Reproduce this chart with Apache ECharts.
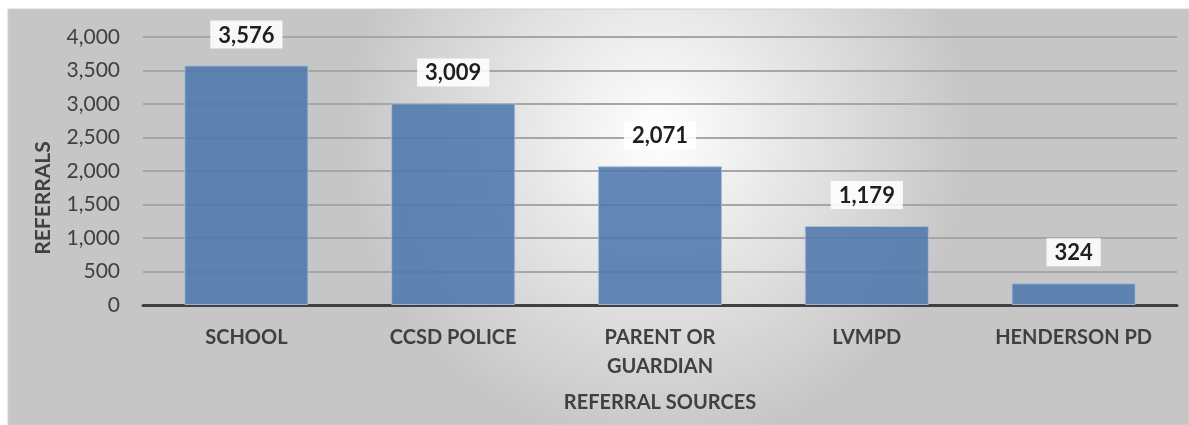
<!DOCTYPE html>
<html><head><meta charset="utf-8">
<script src="https://cdn.jsdelivr.net/npm/echarts@6/dist/echarts.min.js"></script>
<style>html,body{margin:0;padding:0;background:#fff}#c{width:1189px;height:425px}</style>
</head><body><div id="c"></div>
<script>
const categories = ['SCHOOL', 'CCSD POLICE', 'PARENT OR\nGUARDIAN', 'LVMPD', 'HENDERSON PD'];
const referrals = [3576, 3009, 2071, 1179, 324];
const yTicks = [0, 500, 1000, 1500, 2000, 2500, 3000, 3500, 4000];
const FONT = 'Lato, "Open Sans", sans-serif';
const chart = echarts.init(document.getElementById('c'), null, {renderer: 'canvas'});
chart.setOption({
  animation: false,
  graphic: [{
    type: 'rect', z: -10, silent: true,
    shape: {x: 8, y: 9, width: 1181, height: 416},
    style: {
      fill: {type: 'radial', x: 0.55, y: 0.3, r: 0.75,
        colorStops: [{offset: 0, color: '#ffffff'}, {offset: 1, color: '#c6c6c6'}]},
      stroke: '#d0d0d0', lineWidth: 1
    }
  }],
  grid: {left: 143, right: 12, top: 37, bottom: 120, containLabel: false},
  xAxis: {
    type: 'category', data: categories,
    name: 'REFERRAL SOURCES', nameLocation: 'middle', nameGap: 88,
    nameTextStyle: {fontFamily: FONT, fontWeight: 'bold', fontSize: 20, color: '#404040'},
    axisLine: {lineStyle: {color: '#404040', width: 3}},
    axisTick: {show: false},
    axisLabel: {fontFamily: FONT, fontWeight: 'bold', fontSize: 20, color: '#404040', margin: 18, lineHeight: 29}
  },
  yAxis: {
    type: 'value', min: 0, max: 4000, interval: 500,
    name: 'REFERRALS', nameLocation: 'middle', nameGap: 89, nameRotate: 90,
    nameTextStyle: {fontFamily: FONT, fontWeight: 'bold', fontSize: 21, color: '#404040', padding: [0, 54, 0, 0]},
    axisLine: {show: false}, axisTick: {show: false},
    axisLabel: {fontFamily: FONT, fontSize: 21, color: '#404040', margin: 23,
      formatter: v => yTicks.includes(v) ? v.toLocaleString('en-US') : ''},
    splitLine: {lineStyle: {color: '#a6a6a6', width: 2}}
  },
  series: [{
    type: 'bar', data: referrals, barWidth: '60%',
    itemStyle: {color: '#4f79ad', opacity: 0.88, borderColor: '#a9c0dd', borderWidth: 1},
    label: {
      show: true, position: 'top', distance: 17,
      formatter: p => p.value.toLocaleString('en-US'),
      fontFamily: FONT, fontWeight: 'bold', fontSize: 22, color: '#000',
      backgroundColor: '#ffffff', padding: [4, 8, 2, 8]
    }
  }]
});
</script></body></html>
